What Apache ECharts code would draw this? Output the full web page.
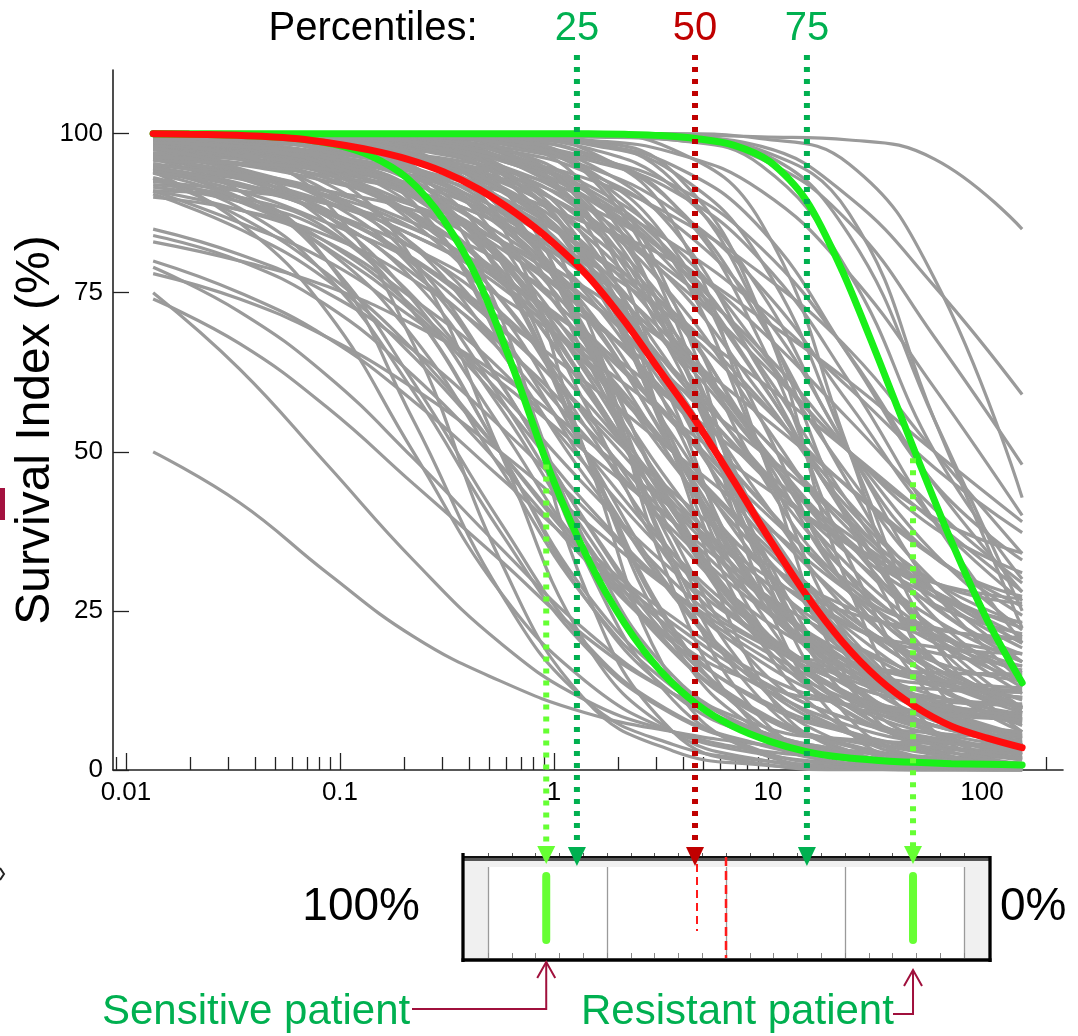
<!DOCTYPE html>
<html lang="en">
<head>
<meta charset="UTF-8">
<title>Survival index curves</title>
<style>
  html, body { margin: 0; padding: 0; background: #fff; }
  #main { width: 1078px; height: 1036px; }
</style>
</head>
<body>
<div id="main"></div>
<script src="https://cdn.jsdelivr.net/npm/echarts@6/dist/echarts.min.js"></script>
<script>
const doses = [0.0134, 0.034, 0.087, 0.22, 0.56, 1.4, 3.6, 9.3, 24, 60, 154];
// denser doses for the three highlighted curves
const hiDoses = [0.0134, 0.0198, 0.0292, 0.0432, 0.0638, 0.0943, 0.139, 0.206, 0.304, 0.449,
  0.663, 0.98, 1.45, 2.14, 3.16, 4.67, 6.9, 10.2, 15.1, 22.2, 32.9, 48.6, 71.8, 106, 154];

// highlighted curves
const medianCurve = [100, 99.9, 99.8, 99.6, 99.2, 98.4, 97.4, 96, 94, 91.2,
  87.5, 83, 77.5, 70.5, 62.5, 54.5, 45.5, 36.2, 27.5, 20.2, 14.3, 10, 6.9, 5, 3.5];
const sensitiveCurve = [100, 99.9, 99.8, 99.6, 99.2, 98.3, 96.5, 93, 86.5, 76.5,
  62, 46, 33, 23, 15.5, 10.3, 6.8, 4.5, 2.9, 2, 1.5, 1.2, 1, 0.9, 0.8];
const resistantCurve = [100, 100, 100, 100, 100, 100, 100, 100, 100, 100,
  100, 100, 100, 99.9, 99.7, 99.2, 98.2, 95.6, 89.5, 78.5, 64.5, 50, 36, 23.5, 13.7];

// all other patients (grey)
const grayCurves = [
  [50, 42, 31, 21, 14, 9, 6, 4, 3, 2, 2],
  [75, 63, 48, 33, 20, 11, 6, 3, 2, 1, 1],
  [74, 67, 57, 45, 33, 21, 12, 6, 3, 2, 1],
  [80, 75, 68, 58, 46, 34, 23, 14, 8, 5, 3],
  [79, 72, 62, 49, 35, 22, 12, 6, 3, 2, 1],
  [78, 74, 68, 60, 50, 39, 28, 19, 12, 8, 6],
  [85, 81, 75, 66, 54, 41, 28, 18, 11, 7, 4],
  [84, 80, 73, 62, 48, 33, 20, 11, 6, 3, 2],
  [83, 80, 76, 70, 62, 52, 41, 30, 20, 13, 8],
  [91, 90, 80, 55, 28, 11, 4, 1.5, 0.5, 0, 0],
  [92, 90, 85, 72, 50, 27, 12, 5, 2, 1, 0.5],
  [93, 87, 78, 66, 50, 34, 22, 13, 7, 4, 2],
  [96, 93, 87, 78, 66, 50, 34, 22, 13, 7, 4],
  [98, 96, 93, 87, 78, 66, 50, 34, 22, 13, 7],
  [99, 98, 96, 93, 87, 78, 66, 50, 34, 22, 13],
  [99, 99, 98, 96, 93, 87, 78, 66, 50, 34, 22],
  [94.5, 90, 82, 72, 58, 42, 28, 17, 10, 5.5, 3],
  [97, 94.5, 90, 82, 72, 58, 42, 28, 17, 10, 5.5],
  [98.5, 97, 94.5, 90, 82, 72, 58, 42, 28, 17, 10],
  [99, 98.5, 97, 94.5, 90, 82, 72, 58, 42, 28, 17],
  [91, 86, 80, 71, 61, 50, 39, 28, 20, 14, 9],
  [94, 91, 86, 80, 71, 61, 50, 39, 28, 20, 14],
  [96, 94, 91, 86, 80, 71, 61, 50, 39, 28, 20],
  [97.5, 96, 94, 91, 86, 80, 71, 61, 50, 39, 28],
  [91, 88, 83, 74, 63, 48, 33, 21, 12, 7, 4],
  [94, 92, 89, 84, 76, 64, 50, 36, 24, 16, 11],
  [90.5, 85, 77, 65, 50, 35, 24, 15, 10, 7, 5],
  [98, 97.5, 96, 94, 91, 86, 80, 71, 61, 50, 39],
  [90, 88, 84, 77, 67, 54, 39, 26, 16, 9, 5],
  [92.5, 91, 89, 85, 77.5, 68, 54.5, 39.5, 26, 16, 9.5],
  [94, 93, 91, 88, 83, 74, 63, 47.5, 32, 21, 12],
  [94, 86, 72, 50, 28, 14, 6, 2.5, 1, 0.4, 0.2],
  [97.5, 94, 86, 72, 50, 28, 14, 6, 2.5, 1, 0.4],
  [99, 97.5, 94, 86, 72, 50, 28, 14, 6, 2.5, 1],
  [99.6, 99, 97.5, 94, 86, 72, 50, 28, 14, 6, 2.5],
  [99.8, 99.6, 99, 97.5, 94, 86, 72, 50, 28, 14, 6],
  [100, 99.8, 99.6, 99, 97.5, 94, 86, 72, 50, 28, 14],
  [96, 91, 80, 61, 39, 20, 9, 4, 1.6, 0.6, 0.2],
  [98.5, 96, 91, 80, 61, 39, 20, 9, 4, 1.6, 0.6],
  [99.4, 98.5, 96, 91, 80, 61, 39, 20, 9, 4, 1.6],
  [99.6, 99.4, 98.5, 96, 91, 80, 61, 39, 20, 9, 4],
  [99.8, 99.6, 99.4, 98.5, 96, 91, 80, 61, 39, 20, 9],
  [100, 99.8, 99.6, 99.4, 98.5, 96, 91, 80, 61, 39, 20],
  [99, 97.7, 94.5, 87, 74, 54, 34, 20.6, 13.4, 10.3, 8.9],
  [99.6, 99, 97.8, 94.7, 87.7, 75, 56, 37, 24, 17, 14],
  [99.8, 99.7, 99.2, 98, 95, 88.5, 76.6, 59, 41, 29.5, 23],
  [99.6, 99.4, 98.6, 96, 91.5, 81, 63, 42.7, 24.8, 14.5, 9.8],
  [99.5, 98.7, 96.6, 92.4, 83, 67, 48, 32, 22.6, 18.4, 16.4],
  [96.6, 96, 94.6, 91, 83.4, 69, 48.5, 27.6, 13.3, 5.7, 2.4],
  [92.6, 89.3, 81.7, 68, 47.5, 27, 13, 5.6, 2.4, 1, 0.4],
  [94.6, 92, 87, 77, 58.5, 37.4, 19, 8.6, 3.8, 1.5, 0.6],
  [97.8, 97.6, 97, 95.6, 92.4, 84.8, 71.2, 51, 30.3, 17.2, 9.6],
  [99.6, 98.4, 94, 80, 50, 20, 6, 1.6, 0.4, 0.1, 0],
  [99.9, 99.6, 98.4, 94, 80, 50, 20, 6, 1.6, 0.4, 0.1],
  [100, 99.9, 99.6, 98.4, 94, 80, 50, 20, 6, 1.6, 0.4],
  [100, 100, 99.9, 99.6, 98.4, 94, 80, 50, 20, 6, 1.6],
  [100, 100, 100, 99.9, 99.6, 98.4, 94, 80, 50, 20, 6],
  [99, 97, 89, 67, 33, 11, 3, 0.8, 0.2, 0, 0],
  [99.8, 99, 97, 89, 67, 33, 11, 3, 0.8, 0.2, 0],
  [100, 99.8, 99, 97, 89, 67, 33, 11, 3, 0.8, 0.2],
  [100, 100, 99.8, 99, 97, 89, 67, 33, 11, 3, 0.8],
  [100, 100, 100, 99.8, 99, 97, 89, 67, 33, 11, 3],
  [100, 99.9, 99.6, 98.6, 94.6, 82, 55, 28, 15.4, 11.4, 10.4],
  [100, 100, 99.8, 99.2, 97.6, 91, 73.6, 46.4, 28.8, 22.4, 20.6],
  [100, 100, 99.9, 99.7, 98.8, 95.5, 85, 62.5, 40, 29.5, 26.2],
  [100, 99.8, 99, 97, 89.5, 68, 36.7, 15.6, 7.9, 5.8, 5.2],
  [96.9, 96.6, 95.5, 91.4, 78.2, 50, 21.8, 8.6, 4.5, 3.4, 3.1],
  [100, 100, 100, 97.5, 86, 50, 13.7, 2.5, 0.4, 0, 0],
  [100, 100, 100, 100, 97.5, 86, 50, 13.7, 2.5, 0.4, 0],
  [100, 100, 100, 100, 100, 97.5, 86, 50, 13.7, 2.5, 0.4],
  [100, 100, 100, 99, 94, 71.5, 28.5, 6, 1, 0, 0],
  [100, 100, 100, 100, 99, 94, 71.5, 28.5, 6, 1, 0],
  [100, 100, 99, 94, 71.5, 28.5, 6, 1, 0, 0, 0],
  [100, 100, 100, 100, 100, 99, 94, 71.5, 28.5, 6, 1],
  [100, 100, 100, 100, 100, 100, 99.6, 97.4, 87.4, 55, 22.3],
  [100, 100, 100, 100, 100, 100, 99.8, 99.5, 99, 96, 85],
  [100, 100, 100, 100, 100, 99.8, 99.5, 98, 90, 76, 59],
  [100, 100, 100, 100, 99.8, 99.5, 99, 96, 86, 68, 48],
  [100, 100, 100, 99.8, 99.5, 99, 97, 91, 78, 60, 40],
  [100, 100, 100, 100, 100, 99.8, 99, 95, 78, 50, 30],
  [100, 100, 100, 100, 100, 99.9, 99.5, 97, 84, 55, 25],
  [100, 100, 100, 99.9, 99.6, 98.5, 95, 85, 65, 45, 33],
  [99, 98.5, 98, 96, 93, 87, 77, 64, 50, 38, 31],
  [98.2, 96.4, 93.7, 88.7, 80.6, 69, 55, 41, 29.4, 21.3, 16.3],
  [99.2, 98.3, 96.6, 94, 89.3, 81.6, 70.8, 57.5, 44.2, 33.4, 25.7],
  [96.2, 93.4, 88, 79.5, 67.3, 52.5, 37.7, 25.5, 17, 11.7, 8.8],
  [99.2, 99.2, 98.4, 96.8, 94.4, 90, 82.7, 72.5, 60, 47.5, 37.3],
  [98.6, 97.2, 95, 91, 84.3, 74.2, 61.2, 46.8, 33.8, 23.7, 17],
  [94, 91.7, 87.5, 80.4, 69.8, 56, 41, 27.2, 16.6, 9.5, 5.3],
  [99.6, 99, 97.6, 94.3, 86.7, 72.9, 52.5, 32.1, 18, 10.6, 7.4],
  [99.8, 99.6, 99.1, 97.8, 94.6, 87.4, 74.4, 55, 35.7, 22.3, 15.3],
  [99.7, 99.5, 98.8, 96.8, 92.8, 84, 69, 51, 36, 27.2, 23.2],
  [99.4, 98.5, 96.1, 91.3, 80.6, 62.5, 40.5, 22.4, 11.7, 6.9, 4.6],
  [99.8, 99.6, 99.4, 98.6, 96.2, 91.5, 81, 63.2, 41.8, 24, 13.6],
  [95, 93.6, 90.2, 82.6, 68.6, 48, 27.4, 13.2, 5.7, 2.4, 1],
  [96.6, 94.2, 89.4, 78.8, 60.8, 39.2, 21.2, 10.6, 5.8, 3.5, 2.6],
  [100, 99.8, 99.7, 99.2, 97.9, 94.9, 88.1, 75.8, 57.5, 39.2, 26.6],
  [100, 99.8, 99.6, 99.5, 98.7, 96.4, 91.9, 82, 65.2, 44.8, 28],
  [99.3, 98.3, 95.8, 90, 78.8, 60.8, 39.3, 21.1, 9.8, 4.2, 1.8],
  [99.7, 99.4, 98.5, 96.3, 91.2, 81.3, 65.5, 46.6, 30.6, 20.6, 15.7],
  [99.9, 99.7, 99.3, 98.3, 95.8, 90, 78.8, 60.8, 39.3, 21.1, 9.8],
  [100, 99.95, 99.8, 99, 96.4, 87.7, 66.8, 38.3, 17.4, 8.6, 6],
  [100, 99.8, 99, 96.2, 87, 65, 35, 13, 3.8, 1, 0.3],
  [100, 100, 100, 99.8, 99.2, 96.8, 89, 70.3, 44.8, 26, 18.2],
  [100, 100, 99.8, 99.1, 97.2, 89.7, 69.3, 38.7, 18.3, 10.8, 8.7],
  [98, 97.8, 97.1, 95.4, 88.4, 69.3, 40.7, 21.6, 14.6, 12.7, 12.2],
  [100, 100, 100, 99.9, 99.3, 97.8, 91.6, 75, 50, 33.4, 27.3],
  [99.8, 99, 97.1, 89.2, 68, 36, 14.8, 6.9, 4.8, 4.2, 4],
  [100, 99.9, 99.7, 98.7, 95.1, 83.6, 59, 34.4, 22.9, 19.3, 18.3],
  [100, 100, 100, 100, 98.8, 91.8, 68, 31.9, 8.1, 1.5, 0.2],
  [100, 100, 100, 100, 100, 98.9, 92.6, 71.2, 38.7, 17.3, 11.3],
  [100, 100, 100, 98.8, 91.8, 68, 31.9, 8.1, 1.5, 0.2, 0],
  [100, 100, 100, 100, 100, 100, 97.5, 86, 50, 13.7, 2.5],
  [100, 100, 100, 100, 100, 100, 100, 99.2, 95.2, 77.2, 42.8],
  [96.8, 95.1, 92.5, 88.7, 83.2, 75.8, 66.4, 55.7, 44.4, 33.6, 24.3],
  [95.3, 92.9, 89.3, 84, 77, 68.1, 57.9, 47.2, 36.9, 28.1, 21],
  [99.5, 99, 99, 98, 96, 93, 87, 78, 66, 50, 34],
  [95.1, 93.2, 90.4, 85.2, 76.7, 64.7, 50, 35.3, 23.3, 14.8, 9.6],
  [91.6, 89.3, 84.6, 74.4, 57, 36, 18.6, 8.4, 3.7, 1.5, 0.6],
  [96.1, 95.2, 93.4, 90.8, 85.8, 77.8, 66.4, 52.5, 38.6, 27.2, 19.2],
  [93.1, 88.3, 77.6, 59.5, 37.5, 19.4, 8.7, 3.9, 1.6, 0.6, 0.2],
  [99.3, 98.4, 96.1, 90.6, 80.1, 63.2, 43, 25.8, 15.2, 9.9, 7.7],
  [99.7, 99.3, 98.3, 95.8, 90, 78.8, 60.8, 39.3, 21.1, 9.8, 4.2],
  [99.8, 99.4, 98.6, 96.6, 91.8, 82.6, 67.9, 50.2, 35.3, 26, 21.4],
  [96.3, 95.4, 93, 87.5, 76.9, 59.8, 39.3, 22, 11.3, 6, 3.7],
  [98.5, 97, 94.5, 90.2, 82.9, 72, 57.8, 42.2, 28, 17.1, 9.8],
  [99.7, 99.3, 98.1, 95.5, 89.5, 78.6, 62.5, 46.4, 35.3, 29.4, 26.9],
  [100, 99.8, 99.1, 96.6, 88.3, 68.5, 41.5, 21.7, 13.4, 10.9, 10.2],
  [100, 100, 99.8, 99, 96.2, 87, 65, 35, 13, 3.8, 1],
  [100, 99.9, 99.4, 98.1, 93.1, 78.4, 51.5, 24.6, 9.9, 4.8, 3.5],
  [98.1, 96.8, 93.8, 86.8, 74.2, 55.5, 36.8, 23.9, 17.1, 14.2, 12.9],
  [94.7, 92.2, 87.5, 80.1, 69.4, 56.5, 43.6, 32.9, 25.5, 20.8, 18.3],
  [97.7, 94.5, 87.1, 73.8, 54, 34.2, 20.6, 13.4, 10.3, 8.9, 8.4],
  [99.9, 99.7, 99.3, 98.3, 95.8, 90.2, 80, 65, 50, 39.6, 34.1],
  [99, 98.1, 96.2, 93.4, 88, 79.5, 67.3, 52.5, 37.7, 25.5, 17],
  [98.5, 97.7, 95.4, 91, 81.2, 64.6, 44.4, 27.8, 18, 13.6, 11.4],
  [100, 99.9, 99.6, 98.4, 94.2, 80.6, 51.5, 22.4, 8.8, 4.6, 3.4],
  [100, 100, 100, 100, 97.9, 88.1, 57.5, 26.6, 17.1, 15.3, 15],
  [99.9, 99.4, 98, 92.9, 77.7, 50, 22.3, 7.1, 1.9, 0.5, 0.1],
  [98.7, 96.5, 92.1, 82.4, 65.9, 46.1, 29.6, 19.9, 15.5, 13.4, 12.5],
  [99.1, 99.1, 98.2, 96.4, 93.7, 88.7, 80.6, 69, 55, 41, 29.4],
  [95.7, 95.3, 94.4, 92, 86.4, 75.6, 58.4, 37.7, 20.3, 9.4, 4],
  [94.6, 91.9, 87.7, 82, 74.4, 65.2, 55, 44.8, 35.7, 28, 22.3],
  [99.8, 99.6, 99.5, 98.7, 96.5, 92.1, 82.4, 65.9, 46.1, 29.6, 19.9],
  [100, 100, 100, 100, 99.1, 94.5, 73.8, 34.2, 13.5, 8.9, 8],
  [100, 100, 99.9, 99.6, 98.6, 94.6, 82, 55, 28, 15.4, 11.4],
  [93.8, 89.8, 82.9, 72.7, 59.3, 44.7, 31.3, 21.1, 14.2, 10.2, 7.8],
  [99.2, 98, 95.2, 88.8, 77.2, 60, 42.8, 31, 24.7, 22, 20.8],
  [98.6, 98, 96.6, 93.2, 85.4, 71.4, 50.5, 29.6, 15.3, 7.7, 4.4],
  [99.9, 99.7, 98.6, 94.9, 83, 57.5, 32, 20.1, 16.4, 15.3, 15.1]
];

// axis ticks
const yTicks = [0, 25, 50, 75, 100];
const xMajorTicks = [0.01, 0.1, 1, 10, 100];
const xMinorTicks = [0.009, 0.02, 0.03, 0.04, 0.05, 0.06, 0.07, 0.08, 0.09,
  0.2, 0.3, 0.4, 0.5, 0.6, 0.7, 0.8, 0.9, 2, 3, 4, 5, 6, 7, 8, 9,
  20, 30, 40, 50, 60, 70, 80, 90, 200];

// percentile arrows and the two example patients
const pctValues = [1.28, 4.56, 15.2];
const pctNames = ['25', '50', '75'];
const pctColors = ['#00b050', '#c00000', '#00b050'];
const patientValues = [0.92, 47.6];
const patientLevels = [48, 49];
const boxMiddle = [50];

const FONT = "'Liberation Sans', Arial, sans-serif";
const CONN = '#a0103c';
const LIME = '#66ff33';

function dotted(x, y1, y2, color) {
  return {type: 'line', shape: {x1: x, y1: y1, x2: x, y2: y2},
    style: {stroke: color, lineWidth: 6, lineDash: [5, 7]}};
}

function renderPercentile(params, api) {
  const i = params.dataIndex;
  const x = api.coord([api.value(0), 1])[0];
  const c = pctColors[i];
  const kids = [
    dotted(x, 55, 847, c),
    {type: 'polygon', shape: {points: [[x - 9, 847], [x + 9, 847], [x, 866]]}, style: {fill: c}},
    {type: 'text', x: x, y: 29, style: {text: pctNames[i], fill: c, fontSize: 40, fontFamily: FONT,
      align: 'center', verticalAlign: 'middle'}}
  ];
  if (i === 1) {
    kids.push({type: 'line', shape: {x1: x + 2, y1: 864, x2: x + 2, y2: 931},
      style: {stroke: '#ff1a1a', lineWidth: 2, lineDash: [8, 5]}});
  }
  return {type: 'group', children: kids};
}

// connector layout for the two patient labels
const connTop = [962, 970];
const connBottom = [1009, 1014];
const textEnd = [412, 893];

function renderPatient(params, api) {
  const i = params.dataIndex;
  const p = api.coord([api.value(0), api.value(1)]);
  const x = p[0];
  return {type: 'group', children: [
    dotted(x, p[1], 846, LIME),
    {type: 'polygon', shape: {points: [[x - 9, 846], [x + 9, 846], [x, 864]]}, style: {fill: LIME}},
    {type: 'rect', shape: {x: x - 4, y: 872, width: 8, height: 72, r: 4}, style: {fill: LIME}},
    {type: 'polyline', shape: {points: [[textEnd[i], connBottom[i]], [x, connBottom[i]], [x, connTop[i]]]},
      style: {stroke: CONN, lineWidth: 2, fill: null}},
    {type: 'polyline', shape: {points: [[x - 9, connTop[i] + 16], [x, connTop[i]], [x + 9, connTop[i] + 16]]},
      style: {stroke: CONN, lineWidth: 2, fill: null}}
  ]};
}

function renderBoxMiddle(params, api) {
  const x = api.coord([api.value(0), 0])[0];
  return {type: 'line', shape: {x1: x, y1: 857, x2: x, y2: 958},
    style: {stroke: '#ff1a1a', lineWidth: 2.5, lineDash: [9, 5]}};
}

const series = [];
grayCurves.forEach(function (ys, k) {
  series.push({
    type: 'line', name: 'patient ' + (k + 1),
    data: doses.map((d, j) => [d, ys[j]]),
    symbol: 'none', smooth: 0.45, silent: true, z: 2,
    lineStyle: {color: '#9a9a9a', width: 3.2}
  });
});
[[sensitiveCurve, '#19f019'], [resistantCurve, '#19f019'], [medianCurve, '#ff0d0d']].forEach(function (c) {
  series.push({
    type: 'line', data: hiDoses.map((d, j) => [d, c[0][j]]),
    symbol: 'none', smooth: 0.3, silent: true, z: 3,
    lineStyle: {color: c[1], width: 7, cap: 'round'}
  });
});
series.push({type: 'custom', xAxisIndex: 0, yAxisIndex: 0, clip: false, silent: true, z: 10,
  data: pctValues.map(v => [v, 1]), renderItem: renderPercentile});
series.push({type: 'custom', xAxisIndex: 0, yAxisIndex: 0, clip: false, silent: true, z: 10,
  data: patientValues.map((v, i) => [v, patientLevels[i]]), renderItem: renderPatient});
series.push({type: 'custom', xAxisIndex: 2, yAxisIndex: 1, clip: false, silent: true, z: 9,
  data: boxMiddle.map(v => [v, 0]), renderItem: renderBoxMiddle});

const chart = echarts.init(document.getElementById('main'));

const boxAxis = {
  gridIndex: 1, type: 'value', min: 0, max: 100, interval: 25, inverse: true,
  axisLine: {show: false}, axisLabel: {show: false},
  axisTick: {show: true, inside: true, length: 5, lineStyle: {color: '#888', width: 1}},
  minorTick: {show: true, splitNumber: 5, length: 5, lineStyle: {color: '#888', width: 1}},
  splitLine: {show: true, lineStyle: {color: '#9a9a9a', width: 1.3}}
};

chart.setOption({
  animation: false,
  backgroundColor: '#fff',
  grid: [
    {left: 113, right: 15, top: 70, bottom: 266, outerBoundsMode: 'none'},
    {left: 488, top: 867, width: 476, height: 91, outerBoundsMode: 'none'}
  ],
  xAxis: [
    {
      gridIndex: 0, type: 'log', logBase: 10, min: 0.0087, max: 239,
      axisLine: {lineStyle: {color: '#222', width: 1.6}},
      axisTick: {inside: true, length: 17, customValues: xMajorTicks, lineStyle: {color: '#222', width: 1.3}},
      axisLabel: {customValues: xMajorTicks, fontSize: 26, fontFamily: FONT, color: '#000', margin: 10,
        formatter: v => String(Number(Number(v).toPrecision(2)))},
      splitLine: {show: false}
    },
    {
      gridIndex: 0, type: 'log', logBase: 10, min: 0.0087, max: 239, position: 'bottom',
      axisLine: {show: false}, axisLabel: {show: false}, splitLine: {show: false},
      axisTick: {inside: true, length: 13, customValues: xMinorTicks, lineStyle: {color: '#222', width: 1.3}}
    },
    boxAxis,
    Object.assign({}, boxAxis, {
      position: 'top', offset: 10, splitLine: {show: false},
      axisTick: {show: true, inside: false, length: 4, lineStyle: {color: '#555', width: 1}},
      minorTick: {show: true, splitNumber: 5, length: 4, lineStyle: {color: '#555', width: 1}}
    })
  ],
  yAxis: [
    {
      gridIndex: 0, type: 'value', min: 0, max: 110,
      axisLine: {show: true, lineStyle: {color: '#222', width: 1.6}},
      axisTick: {show: true, inside: true, length: 16, customValues: yTicks, lineStyle: {color: '#222', width: 1.3}},
      axisLabel: {customValues: yTicks, fontSize: 26, fontFamily: FONT, color: '#000', margin: 10},
      splitLine: {show: false}
    },
    {gridIndex: 1, type: 'value', min: 0, max: 1, show: false}
  ],
  graphic: [
    // fragments cut off at the left edge
    {type: 'rect', z: 1, shape: {x: 0, y: 488, width: 5, height: 32}, style: {fill: '#a3123f'}},
    {type: 'polyline', z: 1, shape: {points: [[0, 868], [4, 874], [0, 880]]}, style: {stroke: '#222', lineWidth: 2, fill: null}},
    // patient box
    {type: 'rect', z: 0, shape: {x: 465, y: 861, width: 524, height: 6}, style: {fill: '#f0f0f0'}},
    {type: 'rect', z: 0, shape: {x: 465, y: 861, width: 23, height: 97}, style: {fill: '#f0f0f0'}},
    {type: 'rect', z: 0, shape: {x: 965, y: 861, width: 24, height: 97}, style: {fill: '#f0f0f0'}},
    {type: 'rect', z: 5, shape: {x: 463, y: 856, width: 527, height: 5}, style: {fill: '#555'}},
    {type: 'line', z: 5, shape: {x1: 462, y1: 857, x2: 991, y2: 857}, style: {stroke: '#111', lineWidth: 2}},
    {type: 'line', z: 5, shape: {x1: 463, y1: 853, x2: 463, y2: 962}, style: {stroke: '#000', lineWidth: 3.3}},
    {type: 'line', z: 5, shape: {x1: 990, y1: 856, x2: 990, y2: 962}, style: {stroke: '#000', lineWidth: 3.3}},
    {type: 'line', z: 5, shape: {x1: 461.5, y1: 960, x2: 991.5, y2: 960}, style: {stroke: '#000', lineWidth: 3.5}},
    // texts
    {type: 'text', z: 6, x: 36, y: 430, rotation: Math.PI / 2,
      style: {text: 'Survival Index (%)', fontSize: 48, fontFamily: FONT, fill: '#000', align: 'center', verticalAlign: 'middle'}},
    {type: 'text', z: 6, x: 373, y: 29,
      style: {text: 'Percentiles:', fontSize: 40, fontFamily: FONT, fill: '#000', align: 'center', verticalAlign: 'middle'}},
    {type: 'text', z: 6, x: 420, y: 907,
      style: {text: '100%', fontSize: 46, fontFamily: FONT, fill: '#000', align: 'right', verticalAlign: 'middle'}},
    {type: 'text', z: 6, x: 1000, y: 907,
      style: {text: '0%', fontSize: 46, fontFamily: FONT, fill: '#000', align: 'left', verticalAlign: 'middle'}},
    {type: 'text', z: 6, x: 102, y: 1012,
      style: {text: 'Sensitive patient', fontSize: 42, fontFamily: FONT, fill: '#00b050', align: 'left', verticalAlign: 'middle'}},
    {type: 'text', z: 6, x: 581, y: 1012,
      style: {text: 'Resistant patient', fontSize: 42, fontFamily: FONT, fill: '#00b050', align: 'left', verticalAlign: 'middle'}}
  ],
  series: series
});
</script>
</body>
</html>
